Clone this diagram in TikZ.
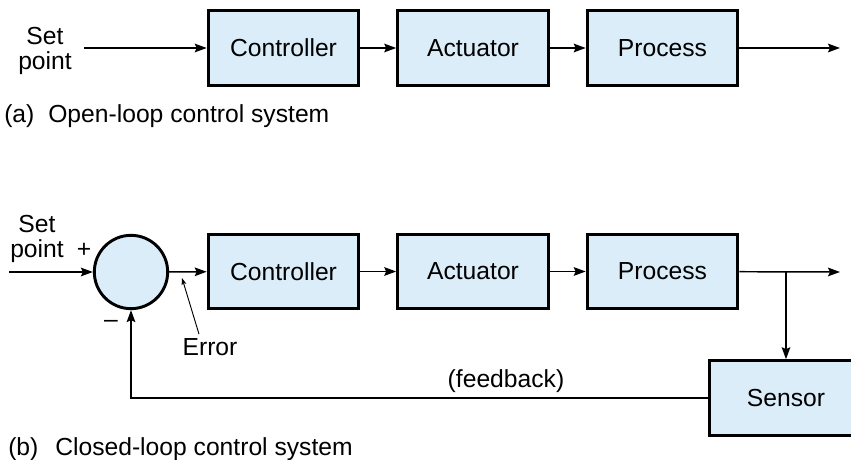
\documentclass[tikz,border=0pt]{standalone}
\usepackage{fontspec}
\setmainfont{Liberation Sans}
\usetikzlibrary{arrows.meta}
\definecolor{boxfill}{RGB}{220,237,250}
\begin{document}
\begin{tikzpicture}[x=0.75pt,y=-0.75pt,
  blk/.style={draw=black, line width=2.2pt, fill=boxfill, minimum width=113pt, minimum height=56pt, inner sep=0pt, font=\fontsize{18.5}{19}\selectfont},
  sumnode/.style={draw=black, circle, line width=2.2pt, fill=boxfill, minimum size=55pt, inner sep=0pt},
  sig/.style={line width=1.1pt, -{Stealth[length=9pt,width=6.5pt,inset=1.5pt]}},
  thinsig/.style={line width=0.7pt, -{Stealth[length=5pt,width=3.5pt,inset=1pt]}},
  lbl/.style={font=\fontsize{18.5}{19}\selectfont, inner sep=0pt},
]
\useasboundingbox (0,0) rectangle (851,460);
\clip (0,0) rectangle (851,460);
% ---------- (a) open loop ----------
\node[blk] (c1) at (283.5,48) {Controller};
\node[blk] (a1) at (473,48) {Actuator};
\node[blk] (p1) at (662.5,48) {Process};
\node[lbl, align=center] (sp1) at (45,51) {Set\\point};
\coordinate (in1) at (84,48);
\coordinate (out1) at (840,48);
\draw[sig] (in1) -- (c1);
\draw[sig] (c1) -- (a1);
\draw[sig] (a1) -- (p1);
\draw[sig] (p1) -- (out1);
\node[lbl, anchor=base west] (capa) at (4,123) {(a)};
\node[lbl, anchor=base west] (capa2) at (48,123) {Open-loop control system};
% ---------- (b) closed loop ----------
\node[sumnode] (sum) at (131,272) {};
\node[blk] (c2) at (283.5,271.5) {Controller};
\node[blk] (a2) at (473,271.5) {Actuator};
\node[blk] (p2) at (662.5,271.5) {Process};
\node[blk, minimum width=122pt] (s) at (791,398) {};
\node[lbl] (stext) at (786,398) {Sensor};
\node[lbl, align=center] (sp2) at (37,239) {Set\\point};
\node[lbl] (plus) at (84,250) {+};
\node[lbl] (minus) at (111,324) {\textendash};
\coordinate (in2) at (9,272);
\coordinate (out2) at (840,272);
\coordinate (br) at (786,272);
\draw[sig] (in2) -- (sum);
\draw[sig] (sum) -- (c2);
\draw[sig] (c2) -- (a2);
\draw[sig] (a2) -- (p2);
\draw[sig] (p2) -- (out2);
\draw[sig] (br) -- (br |- s.north);
\draw[sig] (s.west) -| (sum.south);
\node[lbl] (err) at (210,347) {Error};
\coordinate (errtip) at (182,278);
\draw[thinsig] (err.north) ++(-11,-4) coordinate (errtail) (errtail) -- (errtip);
\node[lbl] (fb) at (506,381) {(feedback)};
\node[lbl, anchor=base west] (capb) at (8,455) {(b)};
\node[lbl, anchor=base west] (capb2) at (55,455) {Closed-loop control system};
\end{tikzpicture}
\end{document}
